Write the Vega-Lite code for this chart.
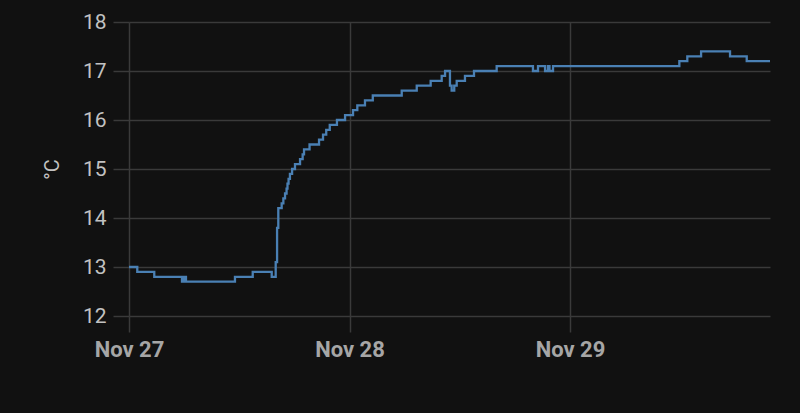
{
  "$schema": "https://vega.github.io/schema/vega-lite/v6.json",
  "width": 641,
  "height": 294,
  "autosize": {"type": "none"},
  "padding": {"left": 129, "top": 22, "right": 30, "bottom": 97},
  "background": "#111111",
  "config": {"view": {"stroke": null}, "font": "Roboto"},
  "data": {
    "values": [
      {"time": "2023-11-27T00:00:00Z", "temp": 13.0},
      {"time": "2023-11-27T00:54:00Z", "temp": 12.9},
      {"time": "2023-11-27T02:45:00Z", "temp": 12.8},
      {"time": "2023-11-27T05:46:00Z", "temp": 12.7},
      {"time": "2023-11-27T05:59:00Z", "temp": 12.8},
      {"time": "2023-11-27T06:12:00Z", "temp": 12.7},
      {"time": "2023-11-27T11:32:00Z", "temp": 12.8},
      {"time": "2023-11-27T13:28:00Z", "temp": 12.9},
      {"time": "2023-11-27T15:32:00Z", "temp": 12.8},
      {"time": "2023-11-27T15:58:00Z", "temp": 13.1},
      {"time": "2023-11-27T16:07:00Z", "temp": 13.8},
      {"time": "2023-11-27T16:15:00Z", "temp": 14.2},
      {"time": "2023-11-27T16:37:00Z", "temp": 14.3},
      {"time": "2023-11-27T16:48:00Z", "temp": 14.4},
      {"time": "2023-11-27T16:59:00Z", "temp": 14.5},
      {"time": "2023-11-27T17:09:00Z", "temp": 14.6},
      {"time": "2023-11-27T17:15:00Z", "temp": 14.7},
      {"time": "2023-11-27T17:22:00Z", "temp": 14.8},
      {"time": "2023-11-27T17:31:00Z", "temp": 14.9},
      {"time": "2023-11-27T17:45:00Z", "temp": 15.0},
      {"time": "2023-11-27T18:04:00Z", "temp": 15.1},
      {"time": "2023-11-27T18:37:00Z", "temp": 15.2},
      {"time": "2023-11-27T18:54:00Z", "temp": 15.3},
      {"time": "2023-11-27T19:03:00Z", "temp": 15.4},
      {"time": "2023-11-27T19:39:00Z", "temp": 15.5},
      {"time": "2023-11-27T20:41:00Z", "temp": 15.6},
      {"time": "2023-11-27T21:07:00Z", "temp": 15.7},
      {"time": "2023-11-27T21:28:00Z", "temp": 15.8},
      {"time": "2023-11-27T21:51:00Z", "temp": 15.9},
      {"time": "2023-11-27T22:38:00Z", "temp": 16.0},
      {"time": "2023-11-27T23:31:00Z", "temp": 16.1},
      {"time": "2023-11-28T00:23:00Z", "temp": 16.2},
      {"time": "2023-11-28T00:51:00Z", "temp": 16.3},
      {"time": "2023-11-28T01:41:00Z", "temp": 16.4},
      {"time": "2023-11-28T02:32:00Z", "temp": 16.5},
      {"time": "2023-11-28T05:41:00Z", "temp": 16.6},
      {"time": "2023-11-28T07:19:00Z", "temp": 16.7},
      {"time": "2023-11-28T08:50:00Z", "temp": 16.8},
      {"time": "2023-11-28T10:02:00Z", "temp": 16.9},
      {"time": "2023-11-28T10:24:00Z", "temp": 17.0},
      {"time": "2023-11-28T10:56:00Z", "temp": 16.7},
      {"time": "2023-11-28T11:07:00Z", "temp": 16.6},
      {"time": "2023-11-28T11:24:00Z", "temp": 16.7},
      {"time": "2023-11-28T11:40:00Z", "temp": 16.8},
      {"time": "2023-11-28T12:34:00Z", "temp": 16.9},
      {"time": "2023-11-28T13:33:00Z", "temp": 17.0},
      {"time": "2023-11-28T16:01:00Z", "temp": 17.1},
      {"time": "2023-11-28T19:58:00Z", "temp": 17.0},
      {"time": "2023-11-28T20:31:00Z", "temp": 17.1},
      {"time": "2023-11-28T21:17:00Z", "temp": 17.0},
      {"time": "2023-11-28T21:36:00Z", "temp": 17.1},
      {"time": "2023-11-28T21:46:00Z", "temp": 17.0},
      {"time": "2023-11-28T22:09:00Z", "temp": 17.1},
      {"time": "2023-11-29T11:54:00Z", "temp": 17.2},
      {"time": "2023-11-29T12:46:00Z", "temp": 17.3},
      {"time": "2023-11-29T14:16:00Z", "temp": 17.4},
      {"time": "2023-11-29T17:25:00Z", "temp": 17.3},
      {"time": "2023-11-29T19:14:00Z", "temp": 17.2},
      {"time": "2023-11-29T21:46:00Z", "temp": 17.2}
    ]
  },
  "mark": {"type": "line", "interpolate": "step-after", "color": "#4a80b4", "strokeWidth": 2.3},
  "encoding": {
    "x": {
      "field": "time",
      "type": "temporal",
      "scale": {
        "type": "utc",
        "domain": [
          {"year": 2023, "month": 11, "date": 27, "utc": true},
          {"year": 2023, "month": 11, "date": 29, "hours": 21, "minutes": 46, "utc": true}
        ]
      },
      "axis": {
        "title": null,
        "values": [
          {"year": 2023, "month": 11, "date": 27, "utc": true},
          {"year": 2023, "month": 11, "date": 28, "utc": true},
          {"year": 2023, "month": 11, "date": 29, "utc": true}
        ],
        "labelExpr": "utcFormat(datum.value, '%b %d')",
        "labelFlush": false,
        "labelBound": false,
        "labelOverlap": false,
        "domain": false,
        "grid": true,
        "gridColor": "#3a3a3a",
        "gridWidth": 1.5,
        "tickColor": "#3a3a3a",
        "tickWidth": 1.5,
        "tickSize": 16,
        "labelFont": "Roboto",
        "labelFontSize": 22,
        "labelFontWeight": "bold",
        "labelColor": "#a6a6a6",
        "labelPadding": 7
      }
    },
    "y": {
      "field": "temp",
      "type": "quantitative",
      "scale": {"domain": [12, 18], "zero": false, "nice": false},
      "axis": {
        "title": "°C",
        "values": [12, 13, 14, 15, 16, 17, 18],
        "domain": false,
        "grid": true,
        "gridColor": "#3a3a3a",
        "gridWidth": 1.5,
        "tickColor": "#3a3a3a",
        "tickWidth": 1.5,
        "tickSize": 16,
        "labelFont": "Roboto",
        "labelFontSize": 21,
        "labelColor": "#c2c2c2",
        "labelPadding": 7,
        "titleFont": "Roboto",
        "titleFontSize": 20,
        "titleFontWeight": "normal",
        "titleColor": "#c2c2c2",
        "titlePadding": 20
      }
    }
  }
}
